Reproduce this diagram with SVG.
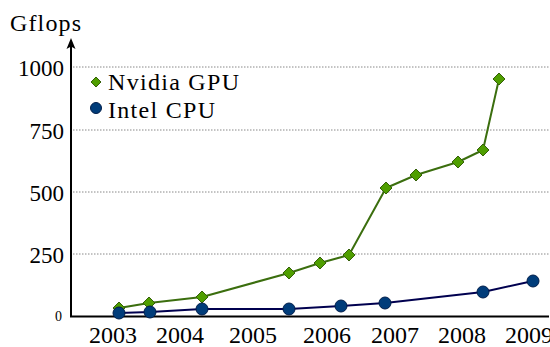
<svg xmlns="http://www.w3.org/2000/svg" width="550" height="347" viewBox="0 0 550 347">
<defs>
<style>
.grid{stroke:#888;stroke-width:1;stroke-dasharray:1.5,1.5;fill:none}
.gpu{stroke:#3b6e0e;stroke-width:2;fill:none;stroke-linejoin:round}
.cpu{stroke:#00004f;stroke-width:2;fill:none;stroke-linejoin:round}
.dm{fill:#4f9e00;stroke:#356009;stroke-width:1}
.ci{fill:#003c7a;stroke:#001d4a;stroke-width:1}
</style>
<polygon id="d" points="0,-6 6,0 0,6 -6,0"/>
</defs>
<rect width="550" height="347" fill="#fff"/>
<g id="gridlines">
<line class="grid" x1="73" y1="67" x2="550" y2="67"/>
<line class="grid" x1="73" y1="130" x2="550" y2="130"/>
<line class="grid" x1="73" y1="192" x2="550" y2="192"/>
<line class="grid" x1="73" y1="254" x2="550" y2="254"/>
</g>
<g id="axes">
<line x1="71" y1="317" x2="71" y2="45" stroke="#000" stroke-width="2"/>
<path d="M71,38 L75.5,49 L71,46.5 L66.5,49 Z" fill="#000"/>
<line x1="70" y1="316.5" x2="549" y2="316.5" stroke="#000" stroke-width="2"/>
<text x="10" y="31" font-family="Liberation Serif" font-size="24" textLength="71">Gflops</text>
<text x="64" y="76" font-family="Liberation Serif" font-size="23" text-anchor="end">1000</text>
<text x="64" y="139" font-family="Liberation Serif" font-size="23" text-anchor="end">750</text>
<text x="64" y="201" font-family="Liberation Serif" font-size="23" text-anchor="end">500</text>
<text x="64" y="263" font-family="Liberation Serif" font-size="23" text-anchor="end">250</text>
<text x="62" y="321" font-family="Liberation Serif" font-size="14" text-anchor="end">0</text>
<text x="113" y="343" font-family="Liberation Serif" font-size="24" text-anchor="middle">2003</text>
<text x="180" y="343" font-family="Liberation Serif" font-size="24" text-anchor="middle">2004</text>
<text x="253" y="343" font-family="Liberation Serif" font-size="24" text-anchor="middle">2005</text>
<text x="327" y="343" font-family="Liberation Serif" font-size="24" text-anchor="middle">2006</text>
<text x="395" y="343" font-family="Liberation Serif" font-size="24" text-anchor="middle">2007</text>
<text x="462" y="343" font-family="Liberation Serif" font-size="24" text-anchor="middle">2008</text>
<text x="529" y="343" font-family="Liberation Serif" font-size="24" text-anchor="middle">2009</text>
</g>
<g id="connectors">
<polyline class="gpu" points="119,308 149,303 202,297 289,273 320,263 349,255 386,188 416,175 458,162 483,150 499,79"/>
<polyline class="cpu" points="119,313 150,312 202,309 289,309 341,306 385,303 483,292 533,281"/>
</g>
<g id="gpu-series">
<use href="#d" class="dm" x="119" y="308"/>
<use href="#d" class="dm" x="149" y="303"/>
<use href="#d" class="dm" x="202" y="297"/>
<use href="#d" class="dm" x="289" y="273"/>
<use href="#d" class="dm" x="320" y="263"/>
<use href="#d" class="dm" x="349" y="255"/>
<use href="#d" class="dm" x="386" y="188"/>
<use href="#d" class="dm" x="416" y="175"/>
<use href="#d" class="dm" x="458" y="162"/>
<use href="#d" class="dm" x="483" y="150"/>
<use href="#d" class="dm" x="499" y="79"/>
</g>
<g id="cpu-series">
<circle class="ci" cx="119" cy="313" r="6"/>
<circle class="ci" cx="150" cy="312" r="6"/>
<circle class="ci" cx="202" cy="309" r="6"/>
<circle class="ci" cx="289" cy="309" r="6"/>
<circle class="ci" cx="341" cy="306" r="6"/>
<circle class="ci" cx="385" cy="303" r="6"/>
<circle class="ci" cx="483" cy="292" r="6"/>
<circle class="ci" cx="533" cy="281" r="6"/>
</g>
<g id="legend">
<polygon class="dm" points="96,77 101,82 96,87 91,82"/>
<text x="108" y="90" font-family="Liberation Serif" font-size="24" textLength="131">Nvidia GPU</text>
<circle class="ci" cx="96" cy="108" r="5.5"/>
<text x="108" y="118" font-family="Liberation Serif" font-size="24" textLength="107">Intel CPU</text>
</g>
</svg>
